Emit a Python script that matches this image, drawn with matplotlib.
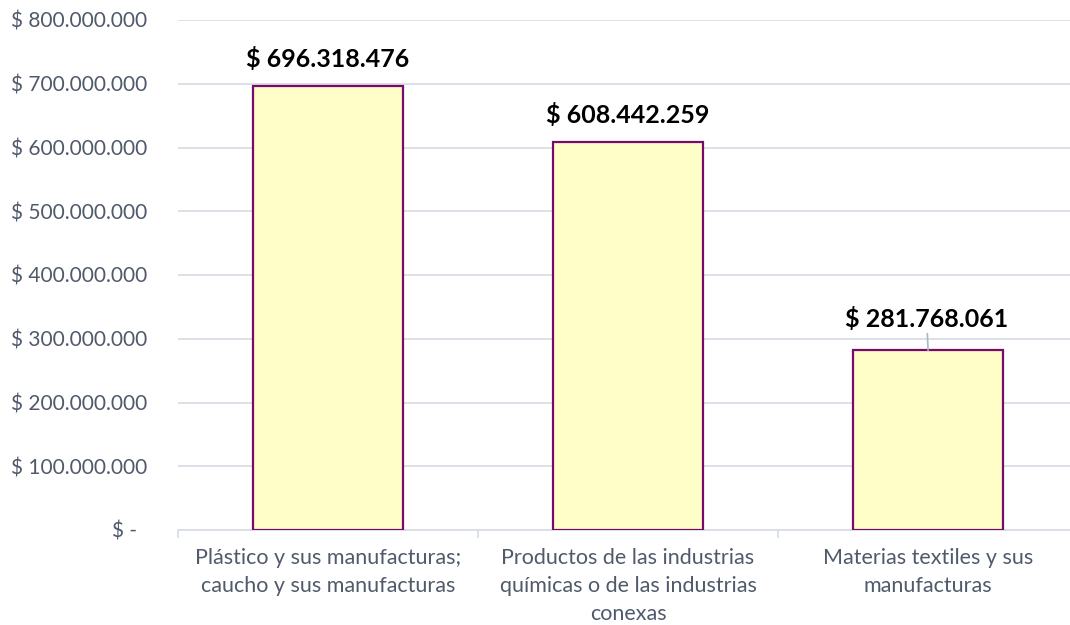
import matplotlib.pyplot as plt
from matplotlib.ticker import FuncFormatter, FixedLocator

categories = ['Plástico y sus manufacturas;\ncaucho y sus manufacturas',
              'Productos de las industrias\nquímicas o de las industrias\nconexas',
              'Materias textiles y sus\nmanufacturas']
values = [696318476, 608442259, 281768061]
value_labels = ['$ 696.318.476', '$ 608.442.259', '$ 281.768.061']
y_ticks = [0, 100000000, 200000000, 300000000, 400000000,
           500000000, 600000000, 700000000, 800000000]

plt.rcParams['font.family'] = ['Lato', 'DejaVu Sans']

fig = plt.figure(figsize=(10.7, 6.25), dpi=100)
ax = fig.add_axes([178 / 1070, 1 - 530 / 625, 1 - 178 / 1070, 510 / 625])

grid_col = '#D9DEE6'
text_col = '#505A6A'

x = range(len(categories))
ax.bar(x, values, width=0.5, color='#FFFDC8', edgecolor='#760B6C', linewidth=1.6, zorder=3)

ax.set_ylim(0, 800000000)
ax.set_xlim(-0.5, 2.473)
ax.set_yticks(y_ticks)


def money(v, pos):
    if v == 0:
        return '$ -  '
    return '$ ' + f'{int(v):,}'.replace(',', '.')


ax.yaxis.set_major_formatter(FuncFormatter(money))
ax.yaxis.grid(True, color=grid_col, linewidth=1.3, zorder=0)
ax.tick_params(axis='y', length=0, pad=22, labelsize=15, labelcolor=text_col)

ax.set_xticks(list(x))
ax.set_xticklabels(categories, fontsize=15.5, color=text_col, linespacing=1.5)
ax.tick_params(axis='x', which='major', length=0, pad=13)
ax.xaxis.set_minor_locator(FixedLocator([-0.5, 0.5, 1.5]))
ax.tick_params(axis='x', which='minor', length=6, color=grid_col, width=1.3)

for s in ['top', 'right', 'left']:
    ax.spines[s].set_visible(False)
ax.spines['bottom'].set_color(grid_col)
ax.spines['bottom'].set_linewidth(1.3)

for i, (v, lab) in enumerate(zip(values, value_labels)):
    if i == 2:
        ax.annotate(lab, xy=(i, v), xytext=(-1, 14), textcoords='offset points',
                    ha='center', va='bottom', fontsize=18, fontweight='bold', color='black',
                    arrowprops=dict(arrowstyle='-', color='#A9B6C9', lw=1.2,
                                    shrinkA=0, shrinkB=0))
    else:
        ax.annotate(lab, xy=(i, v), xytext=(0, 11), textcoords='offset points',
                    ha='center', va='bottom', fontsize=18, fontweight='bold', color='black')

fig.savefig('out.png', dpi=100)
